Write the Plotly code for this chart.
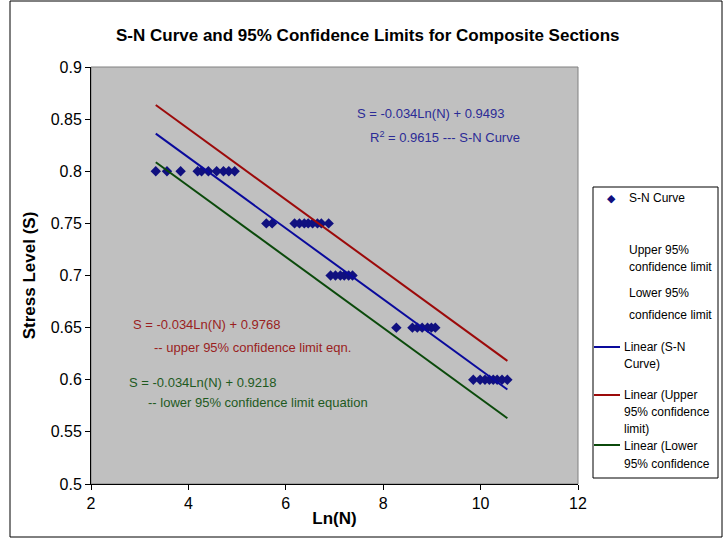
import plotly.graph_objects as go

# ---- data ----
ln_n_080 = [3.33, 3.56, 3.84, 4.19, 4.27, 4.41, 4.58, 4.72, 4.83, 4.95]
ln_n_075 = [5.60, 5.72, 6.18, 6.28, 6.38, 6.46, 6.55, 6.65, 6.73, 6.88]
ln_n_070 = [6.92, 7.02, 7.12, 7.20, 7.29, 7.37]
ln_n_065 = [8.27, 8.60, 8.70, 8.80, 8.91, 8.99, 9.07]
ln_n_060 = [9.85, 9.99, 10.09, 10.18, 10.26, 10.34, 10.44, 10.55]
stress_levels = [0.80, 0.75, 0.70, 0.65, 0.60]

trend_names = ["Linear (S-N Curve)", "Linear (Upper 95% confidence limit)", "Linear (Lower 95% confidence limit)"]
trend_slopes = [-0.034, -0.034, -0.034]
trend_intercepts = [0.9493, 0.9768, 0.9218]
trend_colors = ["#0A0A9C", "#9C0A0A", "#0B4A0B"]

x_ticks = [2, 4, 6, 8, 10, 12]
y_ticks = [0.5, 0.55, 0.6, 0.65, 0.7, 0.75, 0.8, 0.85, 0.9]
y_tick_text = ["0.5", "0.55", "0.6", "0.65", "0.7", "0.75", "0.8", "0.85", "0.9"]

groups = [ln_n_080, ln_n_075, ln_n_070, ln_n_065, ln_n_060]
xs, ys = [], []
for g, s in zip(groups, stress_levels):
    xs += g
    ys += [s] * len(g)

W, H = 725, 539
L, R, T, B = 91, 578, 67, 484


def px(xp):
    return (xp - L) / (R - L)


def py(yp):
    return (B - yp) / (B - T)


fig = go.Figure()

fig.add_trace(go.Scatter(x=xs, y=ys, mode="markers", name="S-N Curve",
                         marker=dict(symbol="diamond", size=8, color="#10107F"),
                         showlegend=False))

xmin, xmax = min(xs), max(xs)
for name, m, c, col in zip(trend_names, trend_slopes, trend_intercepts, trend_colors):
    fig.add_trace(go.Scatter(x=[xmin, xmax], y=[m * xmin + c, m * xmax + c], mode="lines",
                             name=name, line=dict(color=col, width=2), showlegend=False))

shapes = []
# outer chart border
shapes.append(dict(type="rect", xref="paper", yref="paper", x0=px(10), x1=px(722), y0=py(537), y1=py(1),
                   line=dict(color="black", width=1), layer="below"))
# plot area border (gray)
shapes.append(dict(type="rect", xref="paper", yref="paper", x0=0, x1=1, y0=0, y1=1,
                   line=dict(color="#808080", width=1), layer="below"))
# legend box
shapes.append(dict(type="rect", xref="paper", yref="paper", x0=px(593), x1=px(718), y0=py(478), y1=py(187),
                   line=dict(color="black", width=1), fillcolor="white"))

annotations = []
font_family = "Liberation Sans, Arial, sans-serif"


def text(xp, yp, s, color="black", size=12, xanchor="left"):
    annotations.append(dict(xref="paper", yref="paper", x=px(xp), y=py(yp), text=s, showarrow=False,
                            xanchor=xanchor, yanchor="middle", align="left",
                            font=dict(family=font_family, size=size, color=color)))


# legend content
text(605, 198, "◆", color="#10107F", size=11)
text(627, 198, "S-N Curve")
text(627, 250, "Upper 95%")
text(627, 267, "confidence limit")
text(627, 293, "Lower 95%")
text(627, 315, "confidence limit")
text(622, 347, "Linear (S-N")
text(622, 364, "Curve)")
text(622, 395, "Linear (Upper")
text(622, 412, "95% confidence")
text(622, 429, "limit)")
text(622, 446, "Linear (Lower")
text(622, 464, "95% confidence")
for yl, col in zip([347, 395, 445], trend_colors):
    shapes.append(dict(type="line", xref="paper", yref="paper", x0=px(594), x1=px(620), y0=py(yl), y1=py(yl),
                       line=dict(color=col, width=2)))

# equations
text(355, 114, "S = -0.034Ln(N) + 0.9493", color="#2B2B96", size=13)
text(368, 137, "R<sup>2</sup> = 0.9615 --- S-N Curve", color="#2B2B96", size=13)
text(131, 325, "S = -0.034Ln(N) + 0.9768", color="#9A1E1E", size=13)
text(152, 347, "-- upper 95% confidence limit eqn.", color="#9A1E1E", size=13)
text(127, 382, "S = -0.034Ln(N) + 0.9218", color="#1E5A1E", size=13)
text(146, 402, "-- lower 95% confidence limit equation", color="#1E5A1E", size=13)

# title
text(367, 35, "<b>S-N Curve and 95% Confidence Limits for Composite Sections</b>", size=17, xanchor="center")

fig.update_layout(
    width=W, height=H,
    margin=dict(l=L, r=W - R, t=T, b=H - B, pad=0),
    paper_bgcolor="white",
    plot_bgcolor="#C0C0C0",
    font=dict(family=font_family, color="black"),
    shapes=shapes,
    annotations=annotations,
    xaxis=dict(range=[2, 12], tickvals=x_ticks, ticks="outside", ticklen=5, tickcolor="black",
               showline=True, linecolor="black", linewidth=1, showgrid=False, zeroline=False,
               tickfont=dict(size=16),
               title=dict(text="<b>Ln(N)</b>", font=dict(size=17), standoff=0)),
    yaxis=dict(range=[0.5, 0.9], tickvals=y_ticks, ticktext=y_tick_text, ticks="outside", ticklen=5,
               tickcolor="black", showline=True, linecolor="black", linewidth=1, showgrid=False,
               zeroline=False, tickfont=dict(size=16),
               title=dict(text="<b>Stress Level (S)</b>", font=dict(size=17), standoff=10)),
)

fig.write_html("out.html")
